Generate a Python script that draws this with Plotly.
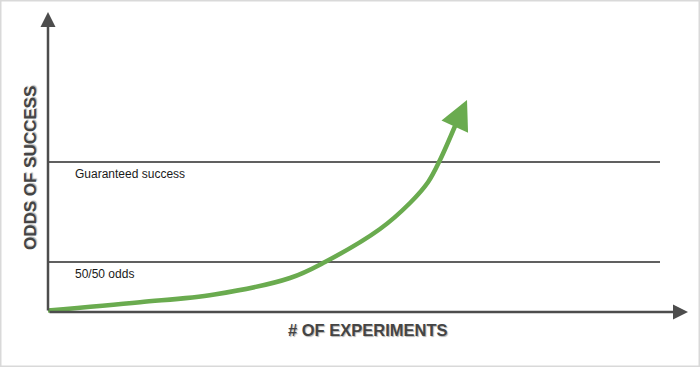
import plotly.graph_objects as go

# Conceptual data: x = number of experiments, y = odds of success (arbitrary units)
curve_x = [0.0, 1.4375, 2.6, 3.781, 4.328, 5.1875, 5.656, 5.94, 6.125, 6.36]
curve_y = [0.03, 0.194, 0.35, 0.68, 1.0, 1.66, 2.18, 2.60, 3.04, 3.72]
arrow_tip = (6.547, 4.24)

level_values = [1.0, 3.0]
level_labels = ["50/50 odds", "Guaranteed success"]
level_x_range = [0.0, 9.5625]

axis_x_max = 10.0
axis_y_max = 6.0

x_title = "# OF EXPERIMENTS"
y_title = "ODDS OF SUCCESS"

GREEN = "#6aab4f"
AXIS = "#4d4d4d"
LINE = "#2b2b2b"
FONT = "Liberation Sans, Arial, sans-serif"

fig = go.Figure()

# horizontal reference levels
for v in level_values:
    fig.add_trace(go.Scatter(x=level_x_range, y=[v, v], mode="lines",
                             line=dict(color=LINE, width=1.3), hoverinfo="skip"))

# green growth curve
fig.add_trace(go.Scatter(x=curve_x, y=curve_y, mode="lines",
                         line=dict(color=GREEN, width=4.5, shape="spline", smoothing=1),
                         hoverinfo="skip"))

annotations = []
# arrow head on curve
annotations.append(dict(x=arrow_tip[0], y=arrow_tip[1], ax=curve_x[-1], ay=curve_y[-1],
                        xref="x", yref="y", axref="x", ayref="y", text="",
                        showarrow=True, arrowhead=2, arrowsize=1.3, arrowwidth=4.5,
                        arrowcolor=GREEN, standoff=0))
# axes with arrows
annotations.append(dict(x=0, y=axis_y_max, ax=0, ay=0, xref="x", yref="y", axref="x", ayref="y",
                        text="", showarrow=True, arrowhead=2, arrowsize=1.2, arrowwidth=2.5,
                        arrowcolor=AXIS, standoff=0))
annotations.append(dict(x=axis_x_max, y=0, ax=0, ay=0, xref="x", yref="y", axref="x", ayref="y",
                        text="", showarrow=True, arrowhead=2, arrowsize=1.2, arrowwidth=2.5,
                        arrowcolor=AXIS, standoff=0))

# level labels
for v, lab in zip(level_values, level_labels):
    annotations.append(dict(x=0.39, y=v - 0.24, xref="x", yref="y", text=lab, showarrow=False,
                            xanchor="left", yanchor="middle",
                            font=dict(family=FONT, size=12, color="#1a1a1a")))

shadow = "1px 1px 1px rgba(0,0,0,0.3)"
annotations.append(dict(x=5.0, y=-0.36, xref="x", yref="y", text="<b>" + x_title + "</b>",
                        showarrow=False, xanchor="center", yanchor="middle",
                        font=dict(family=FONT, size=16.5, color="#444444", shadow=shadow)))
annotations.append(dict(x=-0.28, y=2.88, xref="x", yref="y", text="<b>" + y_title + "</b>",
                        showarrow=False, xanchor="center", yanchor="middle", textangle=-90,
                        font=dict(family=FONT, size=17, color="#444444", shadow=shadow)))

fig.update_layout(
    width=700, height=367, autosize=False,
    margin=dict(l=0, r=0, t=0, b=0),
    paper_bgcolor="white", plot_bgcolor="white",
    showlegend=False,
    xaxis=dict(range=[-48 / 64, (700 - 48) / 64], visible=False, fixedrange=True),
    yaxis=dict(range=[(312 - 367) / 50, 312 / 50], visible=False, fixedrange=True),
    annotations=annotations,
    shapes=[dict(type="rect", xref="paper", yref="paper", x0=0, y0=0, x1=1, y1=1,
                 line=dict(color="#d9d9d9", width=3), layer="above")],
)

fig.write_html("out.html", config={"displayModeBar": False})
